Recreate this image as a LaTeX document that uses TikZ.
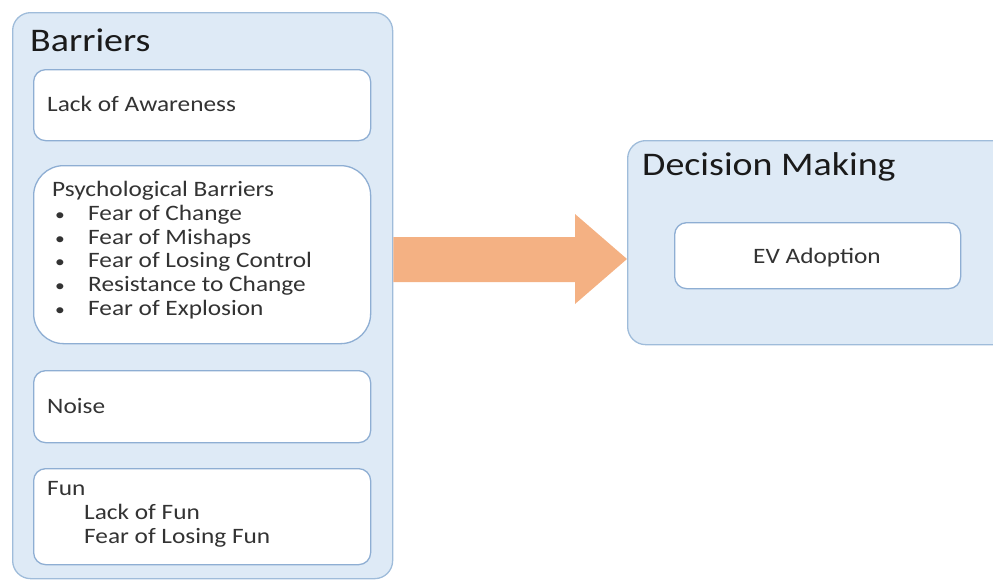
\documentclass[tikz,border=0pt]{standalone}
\usepackage{fontspec}
\setmainfont[FakeStretch=1.15]{Carlito}
\usetikzlibrary{positioning}
\definecolor{outerfill}{HTML}{DEEAF6}
\definecolor{outerline}{HTML}{9FBCDA}
\definecolor{innerline}{HTML}{8EAED3}
\definecolor{arrowfill}{HTML}{F4B183}
\definecolor{headtxt}{HTML}{1A1A1A}
\definecolor{bodytxt}{HTML}{333333}
\tikzset{
  outerbox/.style={draw=outerline, fill=outerfill, line width=1.3pt, rounded corners=18pt, anchor=north west, inner sep=0pt},
  innerbox/.style={draw=innerline, fill=white, line width=1.3pt, rounded corners=12pt, anchor=north west, inner sep=0pt},
  headtext/.style={anchor=base west, inner sep=0pt, text=headtxt, font=\fontsize{33}{36}\selectfont},
  bodytext/.style={anchor=base west, inner sep=0pt, text=bodytxt, font=\fontsize{22}{23.8}\selectfont},
  bullettext/.style={anchor=base west, inner sep=0pt, text=bodytxt, font=\fontsize{17}{20}\selectfont},
}
\begin{document}
\begin{tikzpicture}[x=1pt,y=-1pt]
\useasboundingbox (0,0) rectangle (993,581);
\clip (0,0) rectangle (993,581);
% outer boxes
\node[outerbox, minimum width=380pt, minimum height=566pt] (barriers) at (12,12) {};
\node[outerbox, minimum width=400pt, minimum height=204pt] (decision) at (627,140) {};
% inner boxes
\node[innerbox, minimum width=337pt, minimum height=71pt] (lack) at (33,69) {};
\node[innerbox, rounded corners=30pt, minimum width=337pt, minimum height=178pt] (psych) at (33,165) {};
\node[innerbox, minimum width=337pt, minimum height=72pt] (noise) at (33,370) {};
\node[innerbox, minimum width=337pt, minimum height=96pt] (fun) at (33,468) {};
\node[innerbox, minimum width=286pt, minimum height=66pt] (ev) at (674,222) {};
% headers
\node[headtext] (barrierslbl) at (30,51) {Barriers};
\node[headtext] (decisionlbl) at (642,175) {Decision Making};
% body texts
\node[bodytext] (lacklbl) at (47,111) {Lack of Awareness};
\node[bodytext] (psychlbl) at (52,196.5) {Psychological Barriers};
\foreach \t [count=\i] in {Fear of Change, Fear of Mishaps, Fear of Losing Control, Resistance to Change, Fear of Explosion}{
  \node[bullettext] (bul\i) at (55,196.5+23.8*\i) {\textbullet};
  \node[bodytext] (item\i) at (88,196.5+23.8*\i) {\t};
}
\node[bodytext] (noiselbl) at (47,413) {Noise};
\node[bodytext] (funlbl) at (47,495) {Fun};
\node[bodytext] (fun1) at (84,519) {Lack of Fun};
\node[bodytext] (fun2) at (84,543) {Fear of Losing Fun};
\node[bodytext, anchor=base] (evlbl) at (817,263) {EV Adoption};
% big arrow from barriers to decision
\coordinate (as) at (barriers.east |- 0,237);
\coordinate (tip) at (decision.west |- 0,259);
\fill[arrowfill] (as) -- (575,237) -- (575,214) -- (tip) -- (575,304) -- (575,282) -- (as |- 0,282) -- cycle;
\end{tikzpicture}
\end{document}
